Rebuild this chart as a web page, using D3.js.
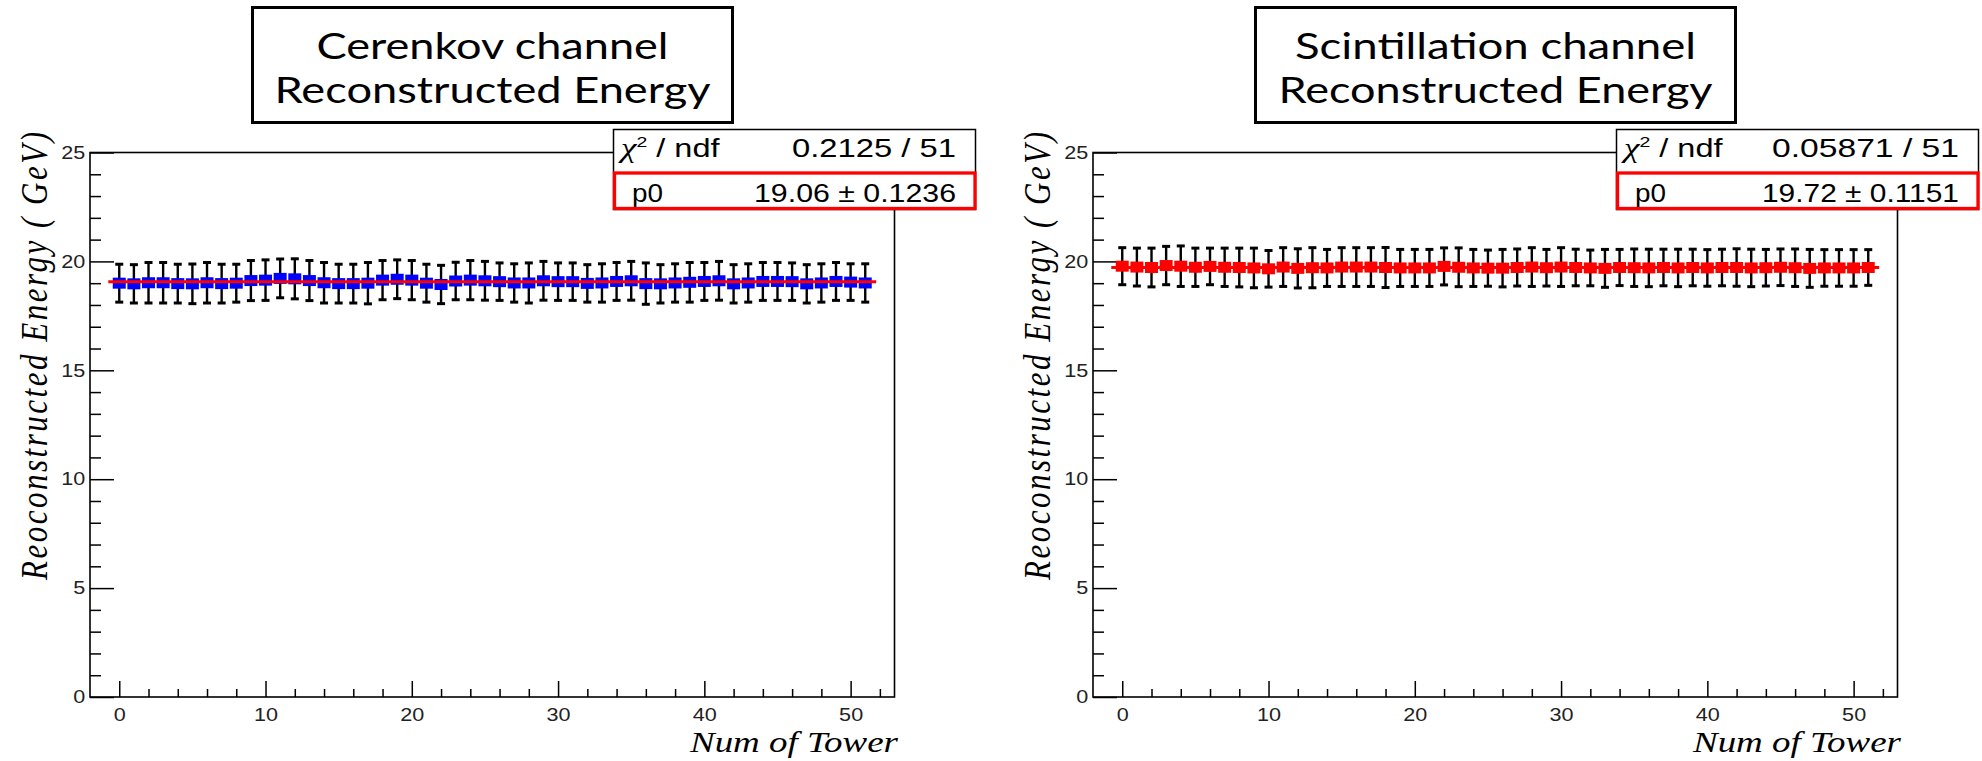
<!DOCTYPE html>
<html>
<head>
<meta charset="utf-8">
<script src="https://cdn.jsdelivr.net/npm/d3@7"></script>
<style>
  html, body { margin: 0; padding: 0; background: #fff; }
  svg { display: block; }
</style>
</head>
<body>
<svg id="chart" width="1982" height="761"></svg>
<script>
// ---- data -------------------------------------------------------------
const towers = [0,1,2,3,4,5,6,7,8,9,10,11,12,13,14,15,16,17,18,19,20,21,22,23,24,25,
                26,27,28,29,30,31,32,33,34,35,36,37,38,39,40,41,42,43,44,45,46,47,48,49,50,51];

const cerenkovEnergy = [19.00,18.97,19.02,19.02,18.98,18.97,19.02,18.98,19.00,19.12,
                        19.14,19.22,19.20,19.12,19.02,18.98,18.98,19.00,19.14,19.18,
                        19.14,19.00,18.94,19.10,19.14,19.11,19.07,19.01,19.01,19.11,
                        19.07,19.07,18.99,19.01,19.08,19.11,18.98,18.97,19.01,19.04,
                        19.08,19.11,18.97,19.01,19.08,19.08,19.07,18.97,19.01,19.08,
                        19.05,19.01];
const cerenkovError  = [0.87,0.88,0.93,0.93,0.89,0.91,0.93,0.89,0.87,0.92,
                        0.93,0.89,0.92,0.92,0.93,0.89,0.89,0.95,0.90,0.89,
                        0.90,0.87,0.88,0.86,0.90,0.89,0.86,0.88,0.92,0.89,
                        0.86,0.86,0.86,0.88,0.87,0.89,0.95,0.88,0.88,0.91,
                        0.87,0.89,0.88,0.88,0.87,0.87,0.86,0.88,0.88,0.87,
                        0.84,0.88];

const scintEnergy = [19.78,19.74,19.72,19.81,19.78,19.73,19.77,19.73,19.72,19.70,
                     19.66,19.74,19.68,19.71,19.70,19.74,19.74,19.74,19.72,19.70,
                     19.70,19.70,19.77,19.73,19.70,19.69,19.69,19.72,19.74,19.71,
                     19.74,19.72,19.70,19.68,19.72,19.71,19.70,19.72,19.70,19.72,
                     19.70,19.72,19.72,19.70,19.71,19.73,19.71,19.68,19.70,19.70,
                     19.70,19.72];
const scintError  = [0.85,0.87,0.89,0.88,0.93,0.88,0.84,0.88,0.89,0.91,
                     0.84,0.89,0.90,0.92,0.85,0.89,0.89,0.89,0.92,0.85,
                     0.85,0.85,0.85,0.89,0.85,0.83,0.86,0.85,0.89,0.84,
                     0.89,0.84,0.82,0.87,0.83,0.86,0.86,0.84,0.86,0.84,
                     0.84,0.84,0.86,0.86,0.84,0.84,0.86,0.87,0.84,0.84,
                     0.84,0.82];

// constant (pol0) fit results
const cerenkovFit = 19.06;
const scintFit    = 19.72;
const fitRange    = [-0.75, 51.75];
const cerenkovStats = ["0.2125 / 51", "19.06 \u00B1 0.1236"];
const scintStats    = ["0.05871 / 51", "19.72 \u00B1 0.1151"];

// axes
const xDomain = [-2, 53];
const yDomain = [0, 25];
const xTicks  = [0, 10, 20, 30, 40, 50];
const yTicks  = [0, 5, 10, 15, 20, 25];
const xMinorTicks = [2,4,6,8,12,14,16,18,22,24,26,28,32,34,36,38,42,44,46,48,52];
const yMinorTicks = [1,2,3,4,6,7,8,9,11,12,13,14,16,17,18,19,21,22,23,24];

const xTitle = "Num of Tower";
const yTitle = "Reoconstructed Energy ( GeV)";

// ---- layout -----------------------------------------------------------
const panels = [
  { dx: 0,    title: ["Cerenkov channel", "Reconstructed Energy"], titleLen: [352, 436],
    energy: cerenkovEnergy, error: cerenkovError, fit: cerenkovFit, color: "#0000ff",
    stats: cerenkovStats, statsLen: [164, 202] },
  { dx: 1003, title: ["Scintillation channel", "Reconstructed Energy"], titleLen: [401, 434],
    energy: scintEnergy, error: scintError, fit: scintFit, color: "#ff0000",
    stats: scintStats, statsLen: [187, 197] }
];

const frame = { left: 90, right: 894.5, top: 152.5, bottom: 697 };
const svg = d3.select("#chart");

panels.forEach(p => {
  const g = svg.append("g").attr("transform", `translate(${p.dx},0)`);

  const x = d3.scaleLinear().domain(xDomain).range([frame.left, frame.right]);
  const y = d3.scaleLinear().domain(yDomain).range([frame.bottom, frame.top]);

  // title box
  g.append("rect")
    .attr("x", 252.5).attr("y", 7.5).attr("width", 480).attr("height", 115)
    .attr("fill", "#fff").attr("stroke", "#000").attr("stroke-width", 3);
  [59, 103].forEach((by, k) => {
    g.append("text")
      .attr("x", 492.5).attr("y", by)
      .attr("text-anchor", "middle")
      .attr("font-family", "Lato, 'Open Sans', sans-serif")
      .attr("font-weight", 400)
      .attr("font-size", 37)
      .attr("textLength", p.titleLen[k])
      .attr("lengthAdjust", "spacingAndGlyphs")
      .attr("fill", "#000")
      .text(p.title[k]);
  });

  // frame
  g.append("rect")
    .attr("x", frame.left).attr("y", frame.top)
    .attr("width", frame.right - frame.left).attr("height", frame.bottom - frame.top)
    .attr("fill", "none").attr("stroke", "#000").attr("stroke-width", 1.6);

  // axes (ticks inside the frame, labels outside)
  const styleAxis = sel => {
    sel.select(".domain").remove();
    sel.selectAll(".tick line").attr("stroke", "#000").attr("stroke-width", 1.5);
    sel.selectAll(".tick text")
      .attr("font-family", "'Liberation Sans', Arial, sans-serif")
      .attr("font-size", 18)
      .attr("fill", "#222")
      .attr("transform", "scale(1.2,1)");
  };

  g.append("g").attr("transform", `translate(0,${frame.bottom})`)
    .call(d3.axisBottom(x).tickValues(xMinorTicks).tickSize(-8).tickFormat(""))
    .call(styleAxis);
  g.append("g").attr("transform", `translate(0,${frame.bottom})`)
    .call(d3.axisBottom(x).tickValues(xTicks).tickSize(-16).tickPadding(11).tickFormat(d3.format("d")))
    .call(styleAxis);

  g.append("g").attr("transform", `translate(${frame.left},0)`)
    .call(d3.axisLeft(y).tickValues(yMinorTicks).tickSize(-11).tickFormat(""))
    .call(styleAxis);
  g.append("g").attr("transform", `translate(${frame.left},0)`)
    .call(d3.axisLeft(y).tickValues(yTicks).tickSize(-24).tickPadding(4).tickFormat(d3.format("d")))
    .call(styleAxis);

  // axis titles
  g.append("text")
    .attr("x", 898).attr("y", 752)
    .attr("text-anchor", "end")
    .attr("font-family", "'Liberation Serif', 'Times New Roman', serif")
    .attr("font-style", "italic")
    .attr("font-size", 30)
    .attr("textLength", 208)
    .attr("lengthAdjust", "spacingAndGlyphs")
    .attr("fill", "#000")
    .text(xTitle);

  g.append("g").attr("transform", "translate(47,356) scale(1.25,1) rotate(-90)")
    .append("text")
    .attr("x", 0).attr("y", 0)
    .attr("text-anchor", "middle")
    .attr("font-family", "'Liberation Serif', 'Times New Roman', serif")
    .attr("font-style", "italic")
    .attr("font-size", 31)
    .attr("textLength", 448)
    .attr("lengthAdjust", "spacing")
    .attr("fill", "#000")
    .text(yTitle);

  // data points with error bars
  const pts = towers.map((t, i) => ({ t, v: p.energy[i], e: p.error[i] }));
  const data = g.append("g");
  const eb = data.selectAll("g.err").data(pts).join("g").attr("class", "err");
  eb.append("line")
    .attr("x1", d => x(d.t)).attr("x2", d => x(d.t))
    .attr("y1", d => y(d.v - d.e)).attr("y2", d => y(d.v + d.e))
    .attr("stroke", "#000").attr("stroke-width", 2.4);
  eb.append("line")
    .attr("x1", d => x(d.t) - 4).attr("x2", d => x(d.t) + 4)
    .attr("y1", d => y(d.v + d.e)).attr("y2", d => y(d.v + d.e))
    .attr("stroke", "#000").attr("stroke-width", 3);
  eb.append("line")
    .attr("x1", d => x(d.t) - 4).attr("x2", d => x(d.t) + 4)
    .attr("y1", d => y(d.v - d.e)).attr("y2", d => y(d.v - d.e))
    .attr("stroke", "#000").attr("stroke-width", 3);

  data.selectAll("rect.mk").data(pts).join("rect").attr("class", "mk")
    .attr("x", d => x(d.t) - 6.5).attr("y", d => y(d.v) - 5.5)
    .attr("width", 13).attr("height", 11)
    .attr("fill", p.color);

  // constant fit
  g.append("line")
    .attr("x1", x(fitRange[0])).attr("x2", x(fitRange[1]))
    .attr("y1", y(p.fit)).attr("y2", y(p.fit))
    .attr("stroke", "#ff0000").attr("stroke-width", 3);

  // fit statistics box
  const sb = g.append("g");
  sb.append("rect")
    .attr("x", 613.5).attr("y", 129.5).attr("width", 362).attr("height", 80)
    .attr("fill", "#fff").attr("stroke", "#000").attr("stroke-width", 1.5);
  sb.append("rect")
    .attr("x", 614.5).attr("y", 173).attr("width", 360.5).attr("height", 35.5)
    .attr("fill", "none").attr("stroke", "#ff0000").attr("stroke-width", 3.3);

  const statFont = "'Liberation Sans', Arial, sans-serif";
  const chi = sb.append("g").attr("transform", "translate(621,157) scale(1.3,1)")
    .append("text")
    .attr("font-family", statFont).attr("font-size", 25).attr("fill", "#000");
  chi.append("tspan")
    .attr("font-family", "'Liberation Serif', serif").attr("font-style", "italic")
    .attr("font-size", 27).text("\u03C7");
  chi.append("tspan").attr("dy", -10).attr("font-size", 15).text("2");
  chi.append("tspan").attr("dy", 10).text(" / ndf");

  sb.append("text")
    .attr("x", 632).attr("y", 202)
    .attr("font-family", statFont).attr("font-size", 25)
    .attr("textLength", 31).attr("lengthAdjust", "spacingAndGlyphs")
    .attr("fill", "#000").text("p0");

  [157, 202].forEach((by, k) => {
    sb.append("text")
      .attr("x", 956).attr("y", by)
      .attr("text-anchor", "end")
      .attr("font-family", statFont).attr("font-size", 25)
      .attr("textLength", p.statsLen[k]).attr("lengthAdjust", "spacingAndGlyphs")
      .attr("fill", "#000")
      .text(p.stats[k]);
  });
});
</script>
</body>
</html>
